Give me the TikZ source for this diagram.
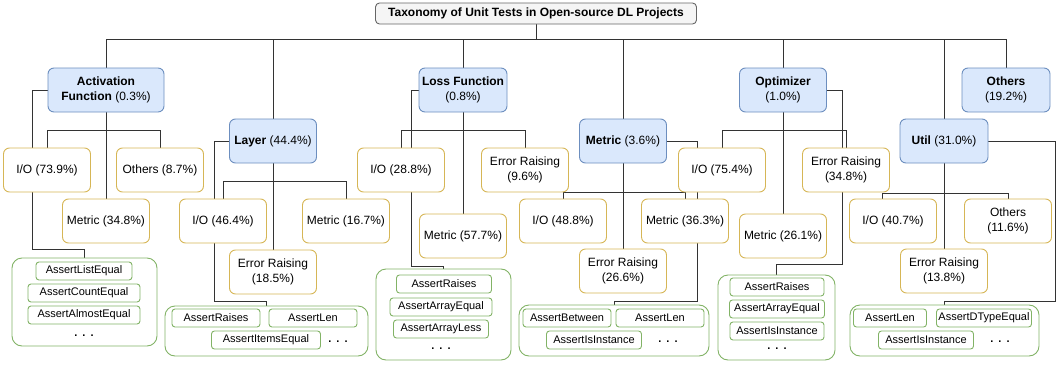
\documentclass[tikz,border=0pt]{standalone}
\usepackage{fontspec}
\setmainfont{Liberation Sans}
\usetikzlibrary{
    positioning,
    backgrounds}
\definecolor{catfill}{HTML}{DAE8FC}
\definecolor{catline}{HTML}{6C8EBF}
\definecolor{subline}{HTML}{D6B656}
\definecolor{grpline}{HTML}{82B366}
\definecolor{ttlfill}{HTML}{F5F5F5}
\definecolor{ttlline}{HTML}{666666}
\definecolor{edgecol}{HTML}{333333}
\tikzset{
    ttlbox/.style={draw=ttlline, fill=ttlfill, rounded corners=4, line width=0.9pt,
        minimum width=321, minimum height=21, inner sep=0,
        font=\bfseries\fontsize{12}{15}\selectfont},
    catbox/.style={draw=catline, fill=catfill, rounded corners=6, line width=0.9pt,
        minimum width=87, minimum height=44, inner sep=1, align=center,
        font=\fontsize{12}{15}\selectfont},
    subbox/.style={draw=subline, fill=white, rounded corners=6, line width=0.9pt,
        minimum width=87, minimum height=44, inner sep=1, align=center,
        font=\fontsize{12}{15}\selectfont},
    grpbox/.style={draw=grpline, fill=white, rounded corners=10, line width=0.9pt, inner sep=0},
    itembox/.style={draw=grpline, fill=white, rounded corners=3, line width=0.9pt,
        minimum height=18, inner sep=0, font=\fontsize{11}{13}\selectfont},
    dotsnode/.style={inner sep=0, font=\bfseries\fontsize{11}{13}\selectfont},
    link/.style={draw=edgecol, line width=0.9pt}
}
\newcommand*{\threedots}{.\hspace{5pt}.\hspace{5pt}.}

\begin{document}
\begin{tikzpicture}[x=1pt,y=-1pt]
    \useasboundingbox (0,0) rectangle (1057,364);
    \node[ttlbox] (ttl) at (536,13.5) {Taxonomy of Unit Tests in Open-source DL Projects};

    \node[catbox, minimum width=116] (act) at (106,90) {\textbf{Activation}\\\textbf{Function} (0.3\%)};
    \node[catbox] (lay) at (273,141) {\textbf{Layer} (44.4\%)};
    \node[catbox, minimum width=88] (loss) at (463,90) {\textbf{Loss Function}\\(0.8\%)};
    \node[catbox] (met) at (623,141) {\textbf{Metric} (3.6\%)};
    \node[catbox] (opt) at (783,90) {\textbf{Optimizer}\\(1.0\%)};
    \node[catbox, minimum width=88] (util) at (944,141) {\textbf{Util} (31.0\%)};
    \node[catbox, minimum width=88] (oth) at (1006,90) {\textbf{Others}\\(19.2\%)};

    \node[subbox] (aio) at (47,170) {I/O (73.9\%)};
    \node[subbox] (aoth) at (160,170) {Others (8.7\%)};
    \node[subbox] (amet) at (106,221) {Metric (34.8\%)};
    \node[subbox] (lio) at (223,221) {I/O (46.4\%)};
    \node[subbox] (lmet) at (346,221) {Metric (16.7\%)};
    \node[subbox] (lerr) at (273,272) {Error Raising\\(18.5\%)};
    \node[subbox] (sio) at (401,170) {I/O (28.8\%)};
    \node[subbox] (serr) at (525,170) {Error Raising\\(9.6\%)};
    \node[subbox] (smet) at (463,236) {Metric (57.7\%)};
    \node[subbox] (mio) at (563,221) {I/O (48.8\%)};
    \node[subbox] (mmet) at (685,221) {Metric (36.3\%)};
    \node[subbox] (merr) at (623,271) {Error Raising\\(26.6\%)};
    \node[subbox] (oio) at (722,170) {I/O (75.4\%)};
    \node[subbox] (oerr) at (846,170) {Error Raising\\(34.8\%)};
    \node[subbox] (omet) at (783,236) {Metric (26.1\%)};
    \node[subbox] (uio) at (893,221) {I/O (40.7\%)};
    \node[subbox] (uoth) at (1008,221) {Others\\(11.6\%)};
    \node[subbox] (uerr) at (944,271) {Error Raising\\(13.8\%)};

    \node[grpbox, minimum width=145, minimum height=88] (ag) at (84.5,302) {};
    \node[itembox, minimum width=96] (ag1) at (84,271) {AssertListEqual};
    \node[itembox, minimum width=112] (ag2) at (84,293) {AssertCountEqual};
    \node[itembox, minimum width=112] (ag3) at (84,315) {AssertAlmostEqual};
    \node[dotsnode] (agd) at (84,336) {\threedots};

    \node[grpbox, minimum width=203, minimum height=50] (lg) at (266.5,331) {};
    \node[itembox, minimum width=88] (lg1) at (216,318) {AssertRaises};
    \node[itembox, minimum width=88] (lg2) at (313,318) {AssertLen};
    \node[itembox, minimum width=109] (lg3) at (266,340) {AssertItemsEqual};
    \node[dotsnode] (lgd) at (338,342) {\threedots};

    \node[grpbox, minimum width=135, minimum height=91] (sg) at (443.5,314.5) {};
    \node[itembox, minimum width=95] (sg1) at (444,284) {AssertRaises};
    \node[itembox, minimum width=102] (sg2) at (441,307) {AssertArrayEqual};
    \node[itembox, minimum width=95] (sg3) at (441,329) {AssertArrayLess};
    \node[dotsnode] (sgd) at (441,349) {\threedots};

    \node[grpbox, minimum width=190, minimum height=51] (mg) at (614,330.5) {};
    \node[itembox, minimum width=88] (mg1) at (567,318) {AssertBetween};
    \node[itembox, minimum width=88] (mg2) at (660,318) {AssertLen};
    \node[itembox, minimum width=95] (mg3) at (594,340) {AssertIsInstance};
    \node[dotsnode] (mgd) at (668,342) {\threedots};

    \node[grpbox, minimum width=117, minimum height=85] (og) at (776.5,317.5) {};
    \node[itembox, minimum width=94] (og1) at (777,287) {AssertRaises};
    \node[itembox, minimum width=95] (og2) at (777,309) {AssertArrayEqual};
    \node[itembox, minimum width=94] (og3) at (777,331) {AssertIsInstance};
    \node[dotsnode] (ogd) at (777,349) {\threedots};

    \node[grpbox, minimum width=189, minimum height=51] (ug) at (944.5,330.5) {};
    \node[itembox, minimum width=73] (ug1) at (890,318) {AssertLen};
    \node[itembox, minimum width=95] (ug2) at (984,318) {AssertDTypeEqual};
    \node[itembox, minimum width=95] (ug3) at (926,340) {AssertIsInstance};
    \node[dotsnode] (ugd) at (1000,342) {\threedots};

    \begin{scope}[on background layer]
      \foreach \n in {act,lay,loss,met,opt,util,oth} {
        \draw[link] (ttl.south) -- ++(0,15) -| (\n.north);
      }
      \foreach \p/\a/\b/\c/\d/\s in {act/aio/aoth/amet/18/0, lay/lio/lmet/lerr/18/0,
          loss/sio/serr/smet/18/0, met/mio/mmet/merr/29/0,
          opt/oio/oerr/omet/18/0, util/uio/uoth/uerr/30/-11} {
        \draw[link] (\p.south) -- ++(0,\d) -| ([xshift=\s]\a.north);
        \draw[link] (\p.south) -- ++(0,\d) -| (\b.north);
        \draw[link] (\p.south) -- (\c.north);
      }
      \draw[link] (act.west) -- ++(-15,0) |- ([yshift=8]ag.north) -- (ag.north);
      \draw[link] (lay.west) -- ++(-15,0) |- ([yshift=4]lg.north) -- (lg.north);
      \draw[link] (loss.west) -- ++(-7,0) |- ([yshift=2]sg.north) -- (sg.north);
      \draw[link] (met.east) -- ++(30,0) |- ([yshift=3]mg.north) -- (mg.north);
      \draw[link] (opt.east) -- ++(15,0) |- ([yshift=10]og.north) -- (og.north);
      \draw[link] (util.east) -- ++(67,0) |- ([yshift=3]ug.north) -- (ug.north);
    \end{scope}
\end{tikzpicture}
\end{document}
